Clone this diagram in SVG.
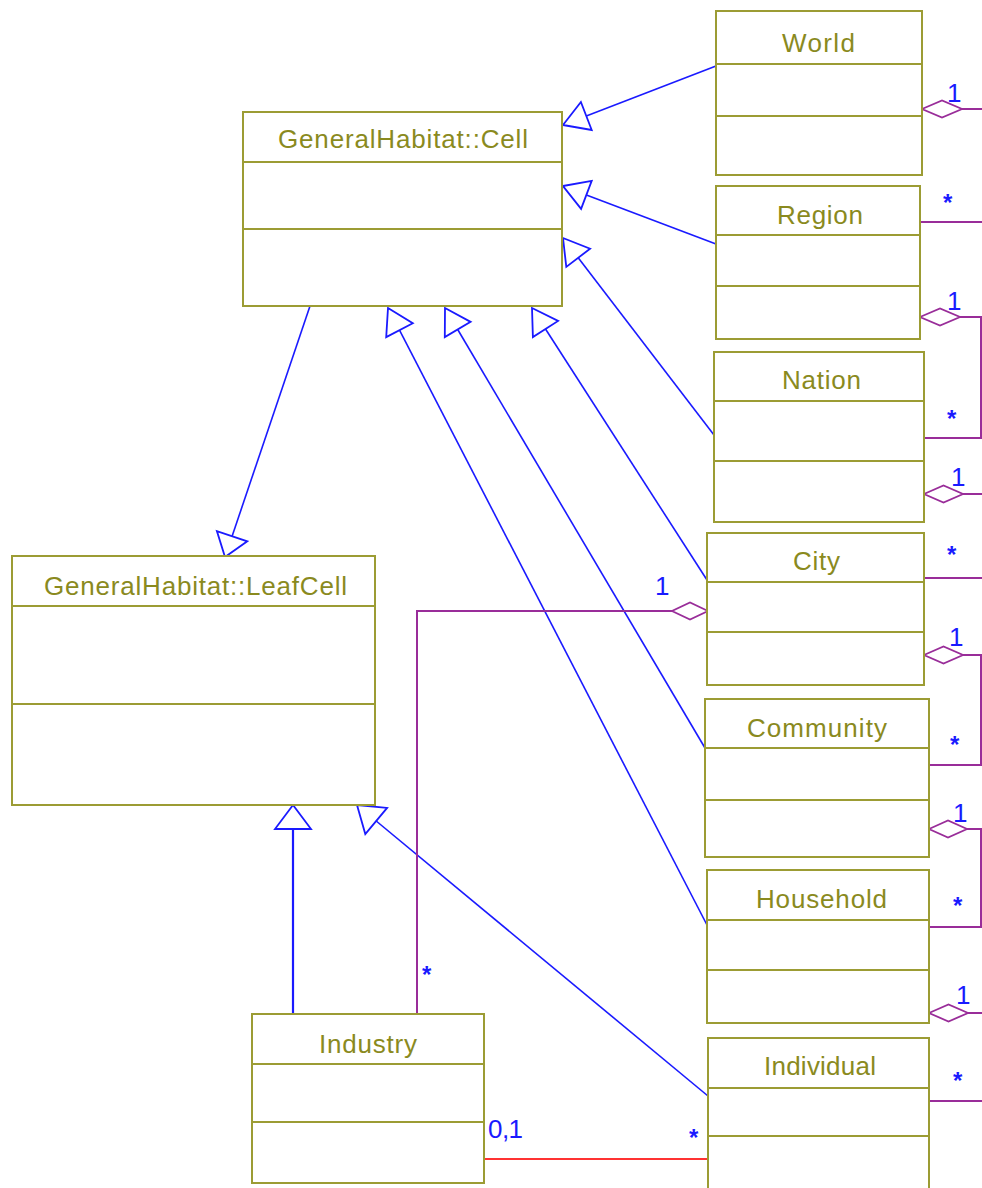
<svg xmlns="http://www.w3.org/2000/svg" width="982" height="1188" viewBox="0 0 982 1188">
<style>
.box{fill:#fff;stroke:#9c9c34;stroke-width:2}
.div{stroke:#9c9c34;stroke-width:2;fill:none}
.title{font-family:"Liberation Sans",Arial,sans-serif;font-size:26px;fill:#8a8a1e}
.gen{stroke:#1a1aff;stroke-width:1.6;fill:none}
.tri{stroke:#1a1aff;stroke-width:1.8;fill:#fff;stroke-linejoin:miter}
.agg{stroke:#992d99;stroke-width:2;fill:none}
.dia{stroke:#992d99;stroke-width:1.8;fill:#fff}
.red{stroke:#ff3333;stroke-width:2.2;fill:none}
.mult{font-family:"Liberation Sans",Arial,sans-serif;font-size:26px;fill:#1a1aff}
.star{font-family:"Liberation Sans",Arial,sans-serif;font-size:24px;font-weight:bold;fill:#1a1aff}
</style>
<rect width="982" height="1188" fill="#fff"/>

<g id="connectors">
  <!-- generalizations -->
  <line class="gen" x1="716" y1="66" x2="586.3" y2="116"/>
  <polygon class="tri" points="563,125 580.9,102 591.7,130"/>
  <line class="gen" x1="716" y1="244" x2="586.4" y2="194.9"/>
  <polygon class="tri" points="563,186 591.7,180.9 581.1,208.9"/>
  <line class="gen" x1="714" y1="435" x2="578.2" y2="257.8"/>
  <polygon class="tri" points="563,238 590.1,248.7 566.3,266.9"/>
  <line class="gen" x1="707" y1="580" x2="545.5" y2="329"/>
  <polygon class="tri" points="532,308 558.1,320.9 532.9,337.1"/>
  <line class="gen" x1="705" y1="748" x2="457.7" y2="329.5"/>
  <polygon class="tri" points="445,308 470.6,321.9 444.8,337.1"/>
  <line class="gen" x1="707" y1="925" x2="399.5" y2="330.2"/>
  <polygon class="tri" points="388,308 412.8,323.3 386.2,337.1"/>
  <line class="gen" x1="310" y1="306" x2="232.1" y2="536.2"/>
  <polygon class="tri" points="225,557 216.9,531.1 247.3,541.3"/>
  <line class="gen" x1="708" y1="1096" x2="376.2" y2="821"/>
  <polygon class="tri" points="357,805 387.1,807.9 365.3,834.1"/>
  <line class="gen" x1="293" y1="1014" x2="293" y2="829" style="stroke-width:2.2"/>
  <polygon class="tri" points="293,805 275,829 311,829"/>

  <!-- aggregations -->
  <polygon class="dia" points="922,109 942,100.5 962,109 942,117.5"/>
  <line class="agg" x1="962" y1="109" x2="982" y2="109"/>
  <line class="agg" x1="920" y1="222" x2="982" y2="222"/>
  <polygon class="dia" points="920,317 940,308.5 960,317 940,325.5"/>
  <polyline class="agg" points="960,317 981,317 981,438 924,438"/>
  <polygon class="dia" points="924,494 943.5,485.5 963,494 943.5,502.5"/>
  <line class="agg" x1="963" y1="494" x2="982" y2="494"/>
  <line class="agg" x1="924" y1="578" x2="982" y2="578"/>
  <polygon class="dia" points="924,655 943.5,646.5 963,655 943.5,663.5"/>
  <polyline class="agg" points="963,655 981,655 981,765 929,765"/>
  <polygon class="dia" points="929,829 948,820.5 967,829 948,837.5"/>
  <polyline class="agg" points="967,829 981,829 981,927 929,927"/>
  <polygon class="dia" points="929,1013 948.5,1004.5 968,1013 948.5,1021.5"/>
  <line class="agg" x1="968" y1="1013" x2="982" y2="1013"/>
  <line class="agg" x1="929" y1="1101" x2="982" y2="1101"/>
  <polygon class="dia" points="708,611 690,602.5 672,611 690,619.5"/>
  <polyline class="agg" points="672,611 417,611 417,1014"/>
  <line class="red" x1="484" y1="1159" x2="708" y2="1159"/>

  <!-- multiplicities -->
  <text class="mult" x="947" y="102">1</text>
  <text class="star" x="943" y="211">*</text>
  <text class="mult" x="947" y="310">1</text>
  <text class="star" x="947" y="427">*</text>
  <text class="mult" x="951" y="486">1</text>
  <text class="star" x="947" y="563">*</text>
  <text class="mult" x="949" y="646">1</text>
  <text class="star" x="950" y="753">*</text>
  <text class="mult" x="953" y="822">1</text>
  <text class="star" x="953" y="914">*</text>
  <text class="mult" x="956" y="1004">1</text>
  <text class="star" x="953" y="1089">*</text>
  <text class="mult" x="655" y="595">1</text>
  <text class="star" x="422" y="983">*</text>
  <text class="star" x="689" y="1146">*</text>
  <text class="mult" x="488" y="1138" textLength="35">0,1</text>
</g>

<g id="cell">
  <rect class="box" x="243" y="112" width="319" height="194"/>
  <line class="div" x1="243" y1="162" x2="562" y2="162"/>
  <line class="div" x1="243" y1="229" x2="562" y2="229"/>
  <text class="title" x="278" y="148" textLength="250">GeneralHabitat::Cell</text>
</g>
<g id="leafcell">
  <rect class="box" x="12" y="556" width="363" height="249"/>
  <line class="div" x1="12" y1="606" x2="375" y2="606"/>
  <line class="div" x1="12" y1="704" x2="375" y2="704"/>
  <text class="title" x="44" y="595" textLength="303">GeneralHabitat::LeafCell</text>
</g>
<g id="world">
  <rect class="box" x="716" y="11" width="206" height="164"/>
  <line class="div" x1="716" y1="64" x2="922" y2="64"/>
  <line class="div" x1="716" y1="116" x2="922" y2="116"/>
  <text class="title" x="782" y="52" textLength="73">World</text>
</g>
<g id="region">
  <rect class="box" x="716" y="186" width="204" height="153"/>
  <line class="div" x1="716" y1="235" x2="920" y2="235"/>
  <line class="div" x1="716" y1="286" x2="920" y2="286"/>
  <text class="title" x="777" y="224" textLength="86">Region</text>
</g>
<g id="nation">
  <rect class="box" x="714" y="352" width="210" height="170"/>
  <line class="div" x1="714" y1="401" x2="924" y2="401"/>
  <line class="div" x1="714" y1="461" x2="924" y2="461"/>
  <text class="title" x="782" y="389" textLength="79">Nation</text>
</g>
<g id="city">
  <rect class="box" x="707" y="533" width="217" height="152"/>
  <line class="div" x1="707" y1="582" x2="924" y2="582"/>
  <line class="div" x1="707" y1="632" x2="924" y2="632"/>
  <text class="title" x="793" y="570" textLength="47">City</text>
</g>
<g id="community">
  <rect class="box" x="705" y="699" width="224" height="158"/>
  <line class="div" x1="705" y1="748" x2="929" y2="748"/>
  <line class="div" x1="705" y1="800" x2="929" y2="800"/>
  <text class="title" x="747" y="737" textLength="140">Community</text>
</g>
<g id="household">
  <rect class="box" x="707" y="870" width="222" height="153"/>
  <line class="div" x1="707" y1="920" x2="929" y2="920"/>
  <line class="div" x1="707" y1="970" x2="929" y2="970"/>
  <text class="title" x="756" y="908" textLength="131">Household</text>
</g>
<g id="individual">
  <rect class="box" x="708" y="1038" width="221" height="170"/>
  <line class="div" x1="708" y1="1088" x2="929" y2="1088"/>
  <line class="div" x1="708" y1="1136" x2="929" y2="1136"/>
  <text class="title" x="764" y="1075" textLength="112">Individual</text>
</g>
<g id="industry">
  <rect class="box" x="252" y="1014" width="232" height="169"/>
  <line class="div" x1="252" y1="1064" x2="484" y2="1064"/>
  <line class="div" x1="252" y1="1122" x2="484" y2="1122"/>
  <text class="title" x="319" y="1053" textLength="98">Industry</text>
</g>
</svg>
